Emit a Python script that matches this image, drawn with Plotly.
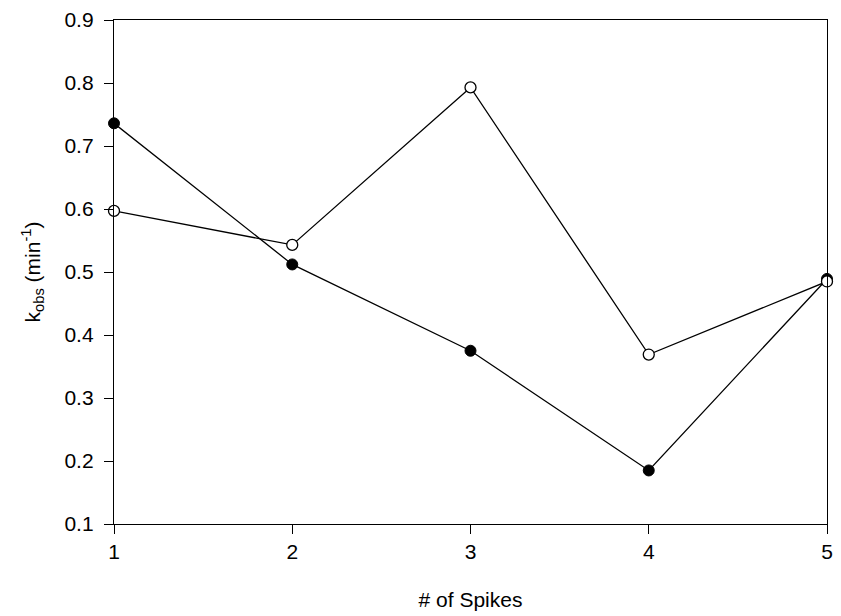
import plotly.graph_objects as go

spikes = [1, 2, 3, 4, 5]
kobs_filled = [0.736, 0.512, 0.375, 0.185, 0.489]
kobs_open = [0.597, 0.543, 0.793, 0.369, 0.485]
y_ticks = [0.1, 0.2, 0.3, 0.4, 0.5, 0.6, 0.7, 0.8, 0.9]

fig = go.Figure()
fig.add_trace(go.Scatter(
    x=spikes, y=kobs_filled, mode="lines+markers",
    line=dict(color="black", width=1.3),
    marker=dict(symbol="circle", size=11, color="black", line=dict(color="black", width=1)),
    cliponaxis=False, showlegend=False))
fig.add_trace(go.Scatter(
    x=spikes, y=kobs_open, mode="lines+markers",
    line=dict(color="black", width=1.3),
    marker=dict(symbol="circle", size=11, color="white", line=dict(color="black", width=1.3)),
    cliponaxis=False, showlegend=False))

font = dict(family="Liberation Sans, Arial, sans-serif", size=21, color="black")
fig.update_layout(
    width=841, height=616,
    margin=dict(l=114, r=8, t=18, b=92),
    plot_bgcolor="white", paper_bgcolor="white",
    font=font,
    xaxis=dict(range=[1, 5], tickvals=spikes, ticks="outside", ticklen=9, tickwidth=1,
               tickcolor="black", showline=True, linecolor="black", linewidth=1.3,
               mirror=True, showgrid=False, zeroline=False,
               title=dict(text="# of Spikes", standoff=29, font=font),
               tickfont=font),
    yaxis=dict(range=[0.1, 0.9], tickvals=y_ticks, ticks="outside", ticklen=9, tickwidth=1,
               tickcolor="black", showline=True, linecolor="black", linewidth=1.3,
               mirror=True, showgrid=False, zeroline=False, tickformat=".1f",
               ticklabelstandoff=6,
               title=dict(text="k<sub>obs</sub> (min<sup>-1</sup>)", standoff=18, font=font),
               tickfont=font),
)
fig.write_html("out.html")
